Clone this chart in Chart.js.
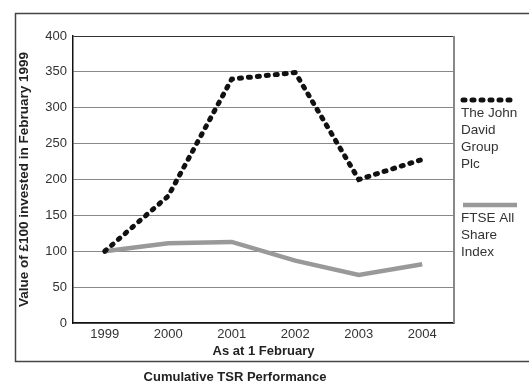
<!DOCTYPE html>
<html>
<head>
<meta charset="utf-8">
<script src="https://cdn.jsdelivr.net/npm/chart.js@4/dist/chart.umd.min.js"></script>
<style>
  html, body { margin: 0; padding: 0; background: #fff; }
  #wrap { width: 529px; height: 383px; }
</style>
</head>
<body>
<div id="wrap"><canvas id="tsrChart" width="529" height="383"></canvas></div>
<script>
// Data
const years = ['1999', '2000', '2001', '2002', '2003', '2004'];
const jdValues = [100, 177, 340, 349, 200, 228];
const ftseValues = [100, 111, 113, 87, 67, 82];
const seriesNames = ['The John David Group Plc', 'FTSE All Share Index'];
const yTicks = [0, 50, 100, 150, 200, 250, 300, 350, 400];

const FONT = '"Liberation Sans", Arial, Helvetica, sans-serif';

// Frame, plot border and the wrapped legend on the right
const framePlugin = {
  id: 'frame',
  afterDraw(chart) {
    const ctx = chart.ctx;
    const area = chart.chartArea;
    ctx.save();

    // outer box (right edge runs off the picture)
    ctx.strokeStyle = '#444';
    ctx.lineWidth = 1.5;
    ctx.strokeRect(15.5, 13.5, 540, 348);

    // right edge of the plot
    ctx.strokeStyle = '#888';
    ctx.lineWidth = 2;
    ctx.beginPath();
    ctx.moveTo(area.right, area.top);
    ctx.lineTo(area.right, area.bottom);
    ctx.stroke();

    // legend
    const sampleYs = [100, 205];
    const x0 = area.right + 7;
    ctx.font = '13.5px ' + FONT;
    ctx.textBaseline = 'middle';
    ctx.textAlign = 'left';
    chart.data.datasets.forEach((ds, i) => {
      const y = sampleYs[i];
      ctx.strokeStyle = ds.borderColor;
      ctx.lineWidth = ds.borderWidth;
      ctx.lineCap = ds.borderCapStyle || 'butt';
      ctx.setLineDash(ds.borderDash || []);
      ctx.beginPath();
      ctx.moveTo(x0 + 2, y);
      ctx.lineTo(x0 + 56, y);
      ctx.stroke();
      ctx.setLineDash([]);

      // wrap the name into short lines
      const words = ds.label.split(' ');
      const lines = [];
      let line = '';
      words.forEach(w => {
        const test = line ? line + ' ' + w : w;
        if (ctx.measureText(test).width > 58 && line) {
          lines.push(line);
          line = w;
        } else {
          line = test;
        }
      });
      if (line) lines.push(line);

      ctx.fillStyle = '#333';
      lines.forEach((l, k) => {
        ctx.fillText(l, x0, y + 13 + k * 17);
      });
    });
    ctx.restore();
  }
};

const ctx = document.getElementById('tsrChart').getContext('2d');
new Chart(ctx, {
  type: 'line',
  data: {
    labels: years,
    datasets: [
      {
        label: seriesNames[0],
        data: jdValues,
        borderColor: '#111',
        borderWidth: 5,
        borderDash: [2, 7],
        borderCapStyle: 'round',
        pointRadius: 0,
        tension: 0,
        fill: false
      },
      {
        label: seriesNames[1],
        data: ftseValues,
        borderColor: '#999',
        borderWidth: 4.5,
        pointRadius: 0,
        tension: 0,
        fill: false
      }
    ]
  },
  options: {
    responsive: false,
    animation: false,
    layout: { padding: { left: 16, top: 36, right: 75, bottom: 0 } },
    plugins: {
      legend: { display: false },
      tooltip: { enabled: false },
      title: {
        display: true,
        position: 'bottom',
        text: 'Cumulative TSR Performance',
        color: '#222',
        font: { family: FONT, size: 13, weight: 'bold' },
        padding: { top: 10, bottom: -2 }
      }
    },
    scales: {
      x: {
        offset: true,
        grid: { display: false, drawTicks: false },
        border: { color: '#111', width: 1.5 },
        ticks: { color: '#333', font: { family: FONT, size: 13 }, padding: 4 },
        title: {
          display: true,
          text: 'As at 1 February',
          color: '#222',
          font: { family: FONT, size: 13, weight: 'bold' },
          padding: { top: 0, bottom: 0 }
        },
        afterFit(scale) { scale.height = 36.4; }
      },
      y: {
        min: 0,
        max: 400,
        afterBuildTicks(scale) { scale.ticks = yTicks.map(v => ({ value: v })); },
        grid: {
          drawTicks: false,
          color: c => (c.tick && c.tick.value === 400 ? '#333' : '#888'),
          lineWidth: 1
        },
        border: { color: '#111', width: 1.5 },
        ticks: { color: '#333', font: { family: FONT, size: 13 }, padding: 6 },
        title: {
          display: true,
          text: 'Value of £100 invested in February 1999',
          color: '#222',
          font: { family: FONT, size: 13.5, weight: 'bold' },
          padding: { top: 0, bottom: 4 }
        },
        afterFit(scale) { scale.width = 57; }
      }
    }
  },
  plugins: [framePlugin]
});
</script>
</body>
</html>
